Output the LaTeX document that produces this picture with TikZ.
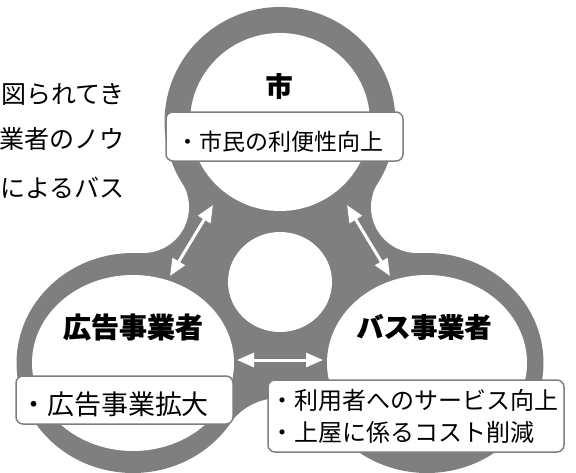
\documentclass[tikz,border=0pt]{standalone}
\usepackage{fontspec}
\usepackage{xcolor}
\usepackage{tikz}
\usetikzlibrary{arrows.meta, positioning, calc}
\newfontfamily\jp{Noto Sans CJK JP}
\newfontfamily\jphead[BoldFeatures={FakeBold=0.6}]{Noto Sans CJK JP}
\definecolor{ringgray}{HTML}{7F7F7F}

\begin{document}
\begin{tikzpicture}[x=1pt, y=-1pt, % pixel-like units, y going down
		ring/.style={fill=ringgray},
		hole/.style={fill=white},
		title/.style={font=\jphead\bfseries\fontsize{27}{27}\selectfont, inner sep=0pt},
		infobox/.style={rectangle, draw=ringgray, line width=1.5pt, fill=white, rounded corners=7pt, align=left, inner ysep=0pt},
		bodytext/.style={font=\jp\fontsize{25}{25}\selectfont, inner sep=0pt, anchor=east},
		biarrow/.style={{Triangle[length=17pt,width=14pt]}-{Triangle[length=17pt,width=14pt]}, draw=white, line width=3pt}
		]
		
		\useasboundingbox (0,0) rectangle (576,472);
		
		% Gray web between the rings
		\fill[ring] (133,363) -- (143,207) -- (280,122) -- (417,207) -- (427,363) -- (280,460) -- cycle;
		\fill[hole] (143,207) circle [radius=46pt] (417,207) circle [radius=46pt] (280,460) circle [radius=62pt];
		
		% Outer rings
		\fill[ring] (280,122) ellipse [x radius=115.5pt, y radius=115pt];
		\fill[ring] (133,363) ellipse [x radius=116.5pt, y radius=110pt];
		\fill[ring] (427,363) ellipse [x radius=116.5pt, y radius=110pt];
		
		% Inner holes
		\fill[hole] (280,122) ellipse [x radius=90pt, y radius=89pt];
		\fill[hole] (133,363) ellipse [x radius=101pt, y radius=88pt];
		\fill[hole] (427,363) ellipse [x radius=100pt, y radius=88pt];
		\fill[hole] (280,282) ellipse [x radius=52pt, y radius=50pt];
		
		% Body text cut at the left
		\node[bodytext] (line1) at (125,94) {図られてき};
		\node[bodytext] (line2) at (125,139) {業者のノウ};
		\node[bodytext] (line3) at (125,188) {によるバス};
		
		% City
		\node[title] (city) at (279,86) {市};
		\node[infobox, text width=217pt, inner xsep=10pt, text height=29pt, text depth=1.5pt, minimum height=49pt, font=\jp\fontsize{23}{23}\selectfont] (citybox) at (284.5,136.5) {・市民の利便性向上};
		
		% Advertising company
		\node[title, font=\jphead\bfseries\fontsize{28}{28}\selectfont] (adco) at (133,327) {広告事業者};
		\node[infobox, text width=209pt, inner xsep=4pt, text height=31pt, text depth=1.5pt, minimum height=48pt, font=\jp\fontsize{27}{27}\selectfont] (adbox) at (124.5,400) {・広告事業拡大};
		
		% Bus company
		\node[title] (busco) at (424,327) {バス事業者};
		\node[infobox, text width=292pt, inner xsep=2pt, minimum height=72pt, font=\jp\fontsize{24}{32}\selectfont] (busbox) at (416,416) {・利用者へのサービス向上\\・上屋に係るコスト削減};
		
		% Arrows
		\coordinate (leftUp) at (213,205);
		\coordinate (leftLow) at (170,276);
		\coordinate (rightUp) at (347,205);
		\coordinate (rightLow) at (390,276);
		\coordinate (midLeft) at (237,360);
		\coordinate (midRight) at (323,360);
		\draw[biarrow] (leftLow) -- (leftUp);
		\draw[biarrow] (rightLow) -- (rightUp);
		\draw[biarrow] (midLeft) -- (midRight);
		
	\end{tikzpicture}
\end{document}
